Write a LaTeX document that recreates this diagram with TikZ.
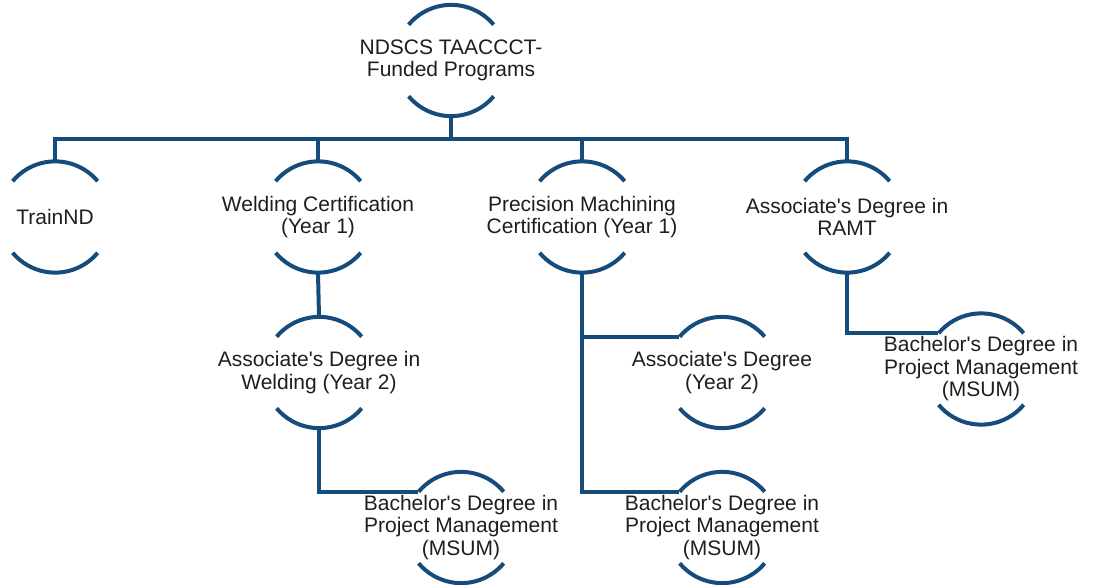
\documentclass[tikz,border=0pt]{standalone}
\usepackage{fontspec}
\setmainfont{Liberation Sans}[Ligatures=TeXOff]
\begin{document}
\definecolor{linkblue}{RGB}{22,76,124}
\definecolor{labelgrey}{RGB}{30,30,30}
\begin{tikzpicture}[x=1pt,y=-1pt,
  program/.style={circle, inner sep=0pt, minimum size=111pt,
    label={[programtext]center:#1}},
  programtext/.style={align=center, text=labelgrey, inner sep=0pt,
    font=\fontsize{21}{22.5}\selectfont},
  link/.style={draw=linkblue, line width=4pt, line cap=butt, line join=miter},
  ringarc/.style={draw=linkblue, line width=4pt, line cap=butt}]
\useasboundingbox (0,0) rectangle (1093,585);

% program nodes (fixed-size rings, text centred inside)
\node[program={NDSCS TAACCCT-\\Funded Programs}] (root) at (451,60.5) {};
\node[program={TrainND}] (train) at (55,217) {};
\node[program={Welding Certification\\(Year 1)}] (weld) at (318,217) {};
\node[program={Precision Machining\\Certification (Year 1)}] (prec) at (582,217) {};
\node[program={Associate's Degree in\\RAMT}] (ramt) at (847,217) {};
\node[program={Associate's Degree in\\Welding (Year 2)}] (wassoc) at (319,372.5) {};
\node[program={Bachelor's Degree in\\Project Management\\(MSUM)}] (wbach) at (461,527.5) {};
\node[program={Associate's Degree\\(Year 2)}] (passoc) at (722,372.5) {};
\node[program={Bachelor's Degree in\\Project Management\\(MSUM)}] (pbach) at (722,527.5) {};
\node[program={Bachelor's Degree in\\Project Management\\(MSUM)}] (rbach) at (981,369) {};

% upper and lower arcs around every node
\foreach \n in {root,train,weld,prec,ramt,wassoc,wbach,passoc,pbach,rbach}{
  \draw[ringarc] (\n.40) arc[start angle=-40,end angle=-140,radius=55.5];
  \draw[ringarc] (\n.-40) arc[start angle=40,end angle=140,radius=55.5];
}

% main bus
\coordinate (bus) at (0,139);
\draw[link] (train.north) -- (train.north |- bus) -- (ramt.north |- bus) -- (ramt.north);
\draw[link] (root.south) -- (root.south |- bus);
\draw[link] (weld.north) -- (weld.north |- bus);
\draw[link] (prec.north) -- (prec.north |- bus);

% welding branch
\draw[link] (weld.south) -- (wassoc.north);
\draw[link] (wassoc.south) -- (wassoc.south |- wbach.140) -- (wbach.140);

% precision machining branch
\draw[link] (prec.south) -- (prec.south |- pbach.140) -- (pbach.140);
\draw[link] (prec.south |- passoc.140) -- (passoc.140);

% RAMT branch
\draw[link] (ramt.south) -- (ramt.south |- rbach.140) -- (rbach.140);
\end{tikzpicture}
\end{document}
